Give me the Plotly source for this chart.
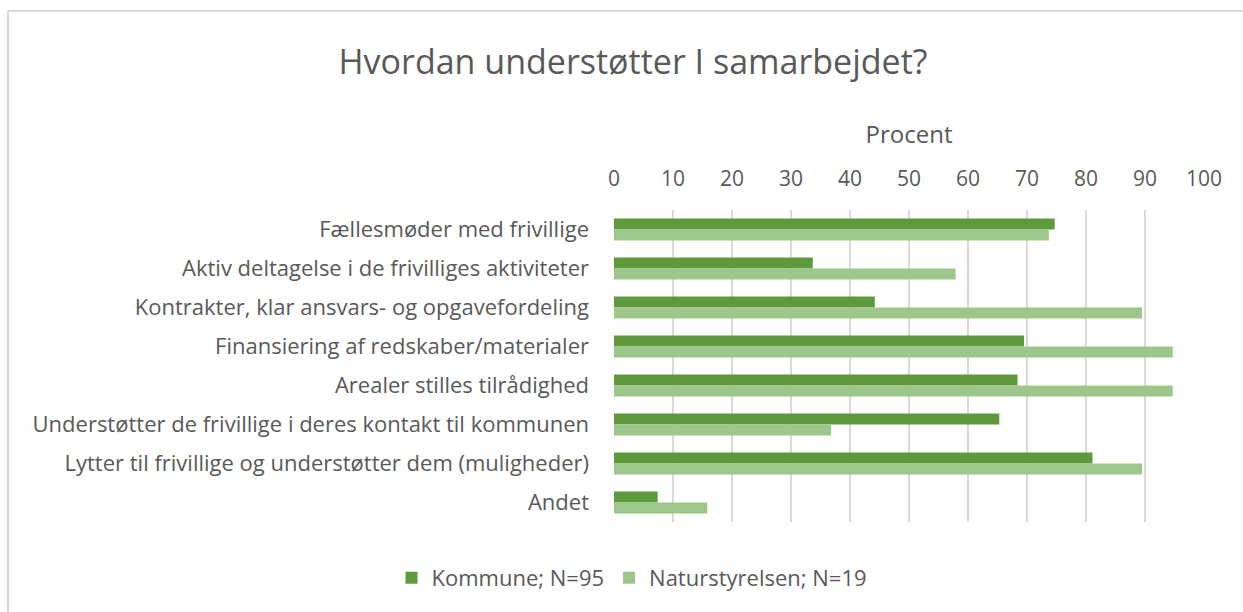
import plotly.graph_objects as go

categories = [
    "Fællesmøder med frivillige",
    "Aktiv deltagelse i de frivilliges aktiviteter",
    "Kontrakter, klar ansvars- og opgavefordeling",
    "Finansiering af redskaber/materialer",
    "Arealer stilles tilrådighed",
    "Understøtter de frivillige i deres kontakt til kommunen",
    "Lytter til frivillige og understøtter dem (muligheder)",
    "Andet",
]
kommune = [74.7, 33.7, 44.2, 69.5, 68.4, 65.3, 81.1, 7.4]
naturstyrelsen = [73.7, 57.9, 89.5, 94.7, 94.7, 36.8, 89.5, 15.8]
tick_vals = [0, 10, 20, 30, 40, 50, 60, 70, 80, 90, 100]

FONT = "'Open Sans', sans-serif"
TXT = "#595959"

fig = go.Figure()
fig.add_trace(go.Bar(y=categories, x=kommune, orientation="h",
                     name="Kommune; N=95", marker=dict(color="#5e9a3b", line=dict(width=0))))
fig.add_trace(go.Bar(y=categories, x=naturstyrelsen, orientation="h",
                     name="Naturstyrelsen; N=19", marker=dict(color="#9dc78a", line=dict(width=0))))

W, H = 1243, 612
L, R, T, B = 614, 39, 210, 90
pw, ph = W - L - R, H - T - B

def px_x(p):
    return (p - L) / pw

def px_y(p):
    return (H - B - p) / ph

fig.update_layout(
    width=W, height=H,
    margin=dict(l=L, r=R, t=T, b=B, autoexpand=False),
    paper_bgcolor="white", plot_bgcolor="white",
    barmode="group", bargap=0.44, bargroupgap=0,
    font=dict(family=FONT, color=TXT),
    title=dict(text="Hvordan understøtter I samarbejdet?", x=633 / W, xanchor="center",
               y=1 - 62 / H, yanchor="middle", font=dict(size=34, color=TXT, family=FONT)),
    xaxis=dict(side="top", range=[0, 100], tickvals=tick_vals, showgrid=True,
               gridcolor="#d9d9d9", gridwidth=1.5, zeroline=False, showline=False,
               ticks="", tickfont=dict(size=21, color=TXT), ticklabelstandoff=19,
               title=dict(text="Procent", font=dict(size=24, color=TXT), standoff=13)),
    yaxis=dict(autorange="reversed", showgrid=False, ticks="", showline=False,
               tickfont=dict(size=22, color=TXT), ticklabelstandoff=24),
    legend=dict(orientation="h", x=px_x(632), xanchor="center", y=px_y(578), yanchor="middle",
                font=dict(size=22, color=TXT), traceorder="normal"),
    shapes=[
        dict(type="line", xref="paper", yref="paper", x0=px_x(8), x1=px_x(1243), y0=px_y(11), y1=px_y(11),
             line=dict(color="#d9d9d9", width=2)),
        dict(type="line", xref="paper", yref="paper", x0=px_x(8), x1=px_x(8), y0=px_y(11), y1=px_y(612),
             line=dict(color="#d9d9d9", width=2)),
    ],
)

fig.write_html("out.html", post_script="document.body.style.margin='0';",
               config={"displayModeBar": False})
